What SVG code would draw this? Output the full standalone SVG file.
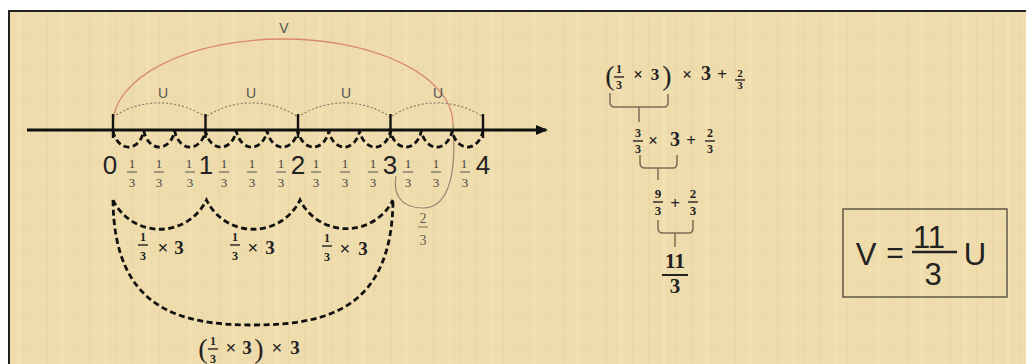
<svg xmlns="http://www.w3.org/2000/svg" width="1026" height="364" viewBox="0 0 1026 364">
<style>
.frac{font-family:"Liberation Serif",serif;font-size:13px;fill:#4a4440;text-anchor:middle}
.big{font-family:"Liberation Sans",Arial,sans-serif;font-size:26px;fill:#222;text-anchor:middle}
.bs{font-family:"Liberation Serif",serif;font-weight:bold;fill:#222;text-anchor:middle}
.par{font-family:"Liberation Serif",serif;fill:#222;text-anchor:middle;font-size:28px}
.ul{font-family:"Liberation Sans",Arial,sans-serif;font-size:14px;fill:#555;text-anchor:middle}
.bar{stroke:#555;stroke-width:1}
.bbar{stroke:#222;stroke-width:1.4}
.dash{fill:none;stroke:#111;stroke-width:2.8;stroke-dasharray:6 3.5}
.dot{fill:none;stroke:#8a7e6c;stroke-width:1.2;stroke-dasharray:2 2}
.brk{fill:none;stroke:#7d6c55;stroke-width:1.5}
.sans{font-family:"Liberation Sans",Arial,sans-serif;fill:#222;text-anchor:middle}
</style>
<defs>
<pattern id="tex" width="43" height="31" patternUnits="userSpaceOnUse">
<rect width="43" height="31" fill="#EFDCAC"/>
<rect x="3" width="2" height="31" fill="#E5CF9A" opacity="0.35"/>
<rect x="17" width="4" height="31" fill="#F5E6BF" opacity="0.35"/>
<rect x="30" width="1" height="31" fill="#E2CB95" opacity="0.3"/>
<rect y="7" width="43" height="1" fill="#E4CE99" opacity="0.25"/>
<rect y="20" width="43" height="2" fill="#F4E4BC" opacity="0.3"/>
</pattern>
<marker id="arr" markerWidth="12" markerHeight="10" refX="10" refY="5" orient="auto" markerUnits="userSpaceOnUse">
<path d="M0,0 L12,5 L0,10 Z" fill="#111"/>
</marker>
</defs>
<rect width="1026" height="364" fill="#fff"/>
<rect x="8" y="10" width="1020" height="360" fill="url(#tex)"/>
<path d="M9,364 V11 H1026" fill="none" stroke="#222" stroke-width="2"/>

<g id="connectors">
<path d="M113,124 A170,85 0 0 1 453,124" fill="none" stroke="#d98a6c" stroke-width="1.3"/>
<path d="M453,124 C456,165 452,208 423,208 C399,208 393,192 396,176" fill="none" stroke="#9a8670" stroke-width="1.2"/>
<path class="dot" d="M113,117 a83,83 0 0 1 92.5,0 a83,83 0 0 1 92.5,0 a83,83 0 0 1 92.5,0 a83,83 0 0 1 92.5,0"/>
<line x1="27" y1="130" x2="546" y2="130" stroke="#111" stroke-width="3" marker-end="url(#arr)"/>
<g stroke="#111" stroke-width="2.4">
<line x1="113" y1="114" x2="113" y2="138"/>
<line x1="205.5" y1="114" x2="205.5" y2="138"/>
<line x1="298" y1="114" x2="298" y2="138"/>
<line x1="390.5" y1="114" x2="390.5" y2="138"/>
<line x1="483" y1="114" x2="483" y2="138"/>
</g>
<path class="dash" d="M113,131 a16,22 0 0 0 30.83,0 a16,22 0 0 0 30.83,0 a16,22 0 0 0 30.83,0 a16,22 0 0 0 30.83,0 a16,22 0 0 0 30.83,0 a16,22 0 0 0 30.83,0 a16,22 0 0 0 30.83,0 a16,22 0 0 0 30.83,0 a16,22 0 0 0 30.83,0 a16,22 0 0 0 30.83,0 a16,22 0 0 0 30.83,0 a16,22 0 0 0 30.83,0"/>
<path class="dash" d="M113,200 a52,52 0 0 0 93.5,0 a52,52 0 0 0 93.5,0 a52,52 0 0 0 93,0"/>
<path class="dash" d="M113,200 C114,308 178,325 253,325 C328,325 392,308 393,200"/>
<path class="brk" d="M610,93 V102 Q610,107 615,107 H664 Q668,107 668,102 V94 M639,107 V122"/>
<path class="brk" d="M640,155 V163 Q640,168 645,168 H673 Q677,168 677,163 V155 M658,168 V180"/>
<path class="brk" d="M658,220 V228 Q658,233 663,233 H689 Q693,233 693,228 V220 M675,233 V247"/>
</g>

<g id="labels-top">
<text class="ul" x="284" y="33">V</text>
<text class="ul" x="163" y="98">U</text>
<text class="ul" x="251" y="98">U</text>
<text class="ul" x="346" y="98">U</text>
<text class="ul" x="438" y="98">U</text>
</g>

<g id="numbers">
<text class="big" x="110" y="174">0</text>
<text class="big" x="206" y="174">1</text>
<text class="big" x="298" y="174">2</text>
<text class="big" x="390" y="174">3</text>
<text class="big" x="483" y="174">4</text>
</g>

<g id="thirds">
<g class="frac">
<text x="132" y="168">1</text><text x="132" y="187">3</text>
<text x="159" y="168">1</text><text x="159" y="187">3</text>
<text x="189" y="168">1</text><text x="190" y="187">3</text>
<text x="224" y="168">1</text><text x="224" y="187">3</text>
<text x="252" y="168">1</text><text x="252" y="187">3</text>
<text x="281" y="168">1</text><text x="281" y="187">3</text>
<text x="316" y="168">1</text><text x="316" y="187">3</text>
<text x="345" y="168">1</text><text x="345" y="187">3</text>
<text x="373" y="168">1</text><text x="373" y="187">3</text>
<text x="408" y="168">1</text><text x="408" y="187">3</text>
<text x="436" y="168">1</text><text x="436" y="187">3</text>
<text x="464" y="168">1</text><text x="465" y="187">3</text>
</g>
<g class="bar">
<line x1="127" y1="172" x2="137" y2="172"/><line x1="154" y1="172" x2="164" y2="172"/><line x1="185" y1="172" x2="195" y2="172"/>
<line x1="219" y1="172" x2="229" y2="172"/><line x1="247" y1="172" x2="257" y2="172"/><line x1="276" y1="172" x2="286" y2="172"/>
<line x1="311" y1="172" x2="321" y2="172"/><line x1="340" y1="172" x2="350" y2="172"/><line x1="368" y1="172" x2="378" y2="172"/>
<line x1="403" y1="172" x2="413" y2="172"/><line x1="431" y1="172" x2="441" y2="172"/><line x1="460" y1="172" x2="470" y2="172"/>
</g>
</g>

<g id="two-thirds">
<text class="frac" x="423" y="223" style="fill:#6a5c4c;font-size:14px">2</text>
<line x1="418" y1="227" x2="428" y2="227" stroke="#7a6c5c" stroke-width="1"/>
<text class="frac" x="423" y="245" style="fill:#6a5c4c;font-size:14px">3</text>
</g>

<g id="lower-labels">
<g>
<text class="bs" x="143" y="241" font-size="12">1</text><line class="bbar" x1="138" y1="245" x2="148" y2="245"/><text class="bs" x="143" y="260" font-size="12">3</text>
<text class="bs" x="163" y="254" font-size="19" font-weight="normal">×</text><text class="bs" x="179" y="254" font-size="19">3</text>
</g>
<g>
<text class="bs" x="235" y="241" font-size="12">1</text><line class="bbar" x1="230" y1="245" x2="240" y2="245"/><text class="bs" x="235" y="260" font-size="12">3</text>
<text class="bs" x="253" y="254" font-size="19" font-weight="normal">×</text><text class="bs" x="270" y="254" font-size="19">3</text>
</g>
<g>
<text class="bs" x="327" y="242" font-size="12">1</text><line class="bbar" x1="322" y1="246" x2="332" y2="246"/><text class="bs" x="327" y="261" font-size="12">3</text>
<text class="bs" x="345" y="255" font-size="19" font-weight="normal">×</text><text class="bs" x="363" y="255" font-size="19">3</text>
</g>
<g>
<text class="par" x="203" y="358">(</text>
<text class="bs" x="213" y="345" font-size="12">1</text><line class="bbar" x1="208" y1="349" x2="218" y2="349"/><text class="bs" x="213" y="363" font-size="12">3</text>
<text class="bs" x="231" y="354" font-size="19" font-weight="normal">×</text><text class="bs" x="247" y="354" font-size="19">3</text>
<text class="par" x="259" y="358">)</text>
<text class="bs" x="277" y="354" font-size="19" font-weight="normal">×</text><text class="bs" x="295" y="354" font-size="19">3</text>
</g>
</g>

<g id="derivation">
<g>
<text class="par" x="610" y="85">(</text>
<text class="bs" x="619" y="73" font-size="12">1</text><line class="bbar" x1="614" y1="77" x2="624" y2="77"/><text class="bs" x="619" y="89" font-size="12">3</text>
<text class="bs" x="638" y="80" font-size="17" font-weight="normal">×</text><text class="bs" x="655" y="80" font-size="17">3</text>
<text class="par" x="667" y="85">)</text>
<text class="bs" x="687" y="80" font-size="17" font-weight="normal">×</text><text class="bs" x="706" y="80" font-size="20">3</text>
<text class="bs" x="722" y="80" font-size="17">+</text>
<text class="bs" x="740" y="77" font-size="11">2</text><line class="bbar" x1="735" y1="80" x2="745" y2="80"/><text class="bs" x="740" y="89" font-size="11">3</text>
</g>
<g>
<text class="bs" x="638" y="137" font-size="12">3</text><line class="bbar" x1="633" y1="141" x2="643" y2="141"/><text class="bs" x="638" y="153" font-size="12">3</text>
<text class="bs" x="653" y="146" font-size="17" font-weight="normal">×</text><text class="bs" x="675" y="146" font-size="20">3</text>
<text class="bs" x="691" y="146" font-size="17">+</text>
<text class="bs" x="710" y="137" font-size="12">2</text><line class="bbar" x1="705" y1="141" x2="715" y2="141"/><text class="bs" x="710" y="153" font-size="12">3</text>
</g>
<g>
<text class="bs" x="658" y="198" font-size="13">9</text><line class="bbar" x1="653" y1="202" x2="663" y2="202"/><text class="bs" x="658" y="215" font-size="13">3</text>
<text class="bs" x="675" y="209" font-size="17">+</text>
<text class="bs" x="693" y="198" font-size="13">2</text><line class="bbar" x1="688" y1="202" x2="698" y2="202"/><text class="bs" x="693" y="215" font-size="13">3</text>
</g>
<g>
<text class="bs" x="675" y="268" font-size="21">11</text>
<line x1="662" y1="275" x2="688" y2="275" stroke="#222" stroke-width="2"/>
<text class="bs" x="675" y="293" font-size="21">3</text>
</g>
</g>

<g id="result">
<rect x="843" y="209" width="164" height="88" fill="none" stroke="#4a4236" stroke-width="1.3"/>
<text class="sans" x="866" y="265" font-size="31">V</text>
<text class="sans" x="895" y="263" font-size="30">=</text>
<text class="sans" x="929" y="248" font-size="31">11</text>
<line x1="912" y1="252" x2="957" y2="252" stroke="#222" stroke-width="2.5"/>
<text class="sans" x="933" y="285" font-size="31">3</text>
<text class="sans" x="975" y="265" font-size="31">U</text>
</g>
</svg>
